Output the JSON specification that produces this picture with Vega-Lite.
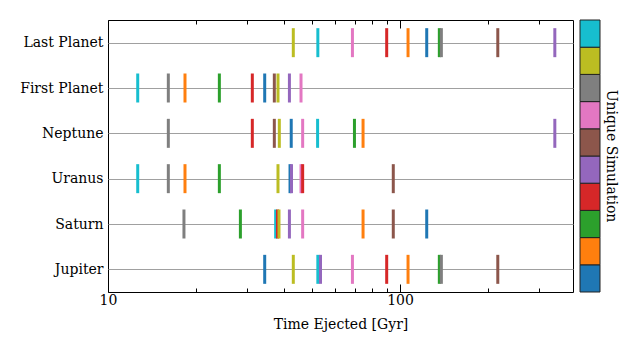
{
  "$schema": "https://vega.github.io/schema/vega-lite/v6.json",
  "width": 465,
  "height": 272,
  "autosize": {"type": "none"},
  "padding": {"left": 108, "top": 20, "right": 67, "bottom": 59},
  "background": "white",
  "config": {
    "view": {"stroke": "black", "strokeWidth": 1},
    "font": "DejaVu Serif"
  },
  "datasets": {
    "ej": [
      {"planet": "Jupiter", "t": 34.4, "sim": 0},
      {"planet": "Jupiter", "t": 43.1, "sim": 8},
      {"planet": "Jupiter", "t": 52.3, "sim": 9},
      {"planet": "Jupiter", "t": 53.4, "sim": 4},
      {"planet": "Jupiter", "t": 68.7, "sim": 6},
      {"planet": "Jupiter", "t": 90.0, "sim": 3},
      {"planet": "Jupiter", "t": 106.5, "sim": 1},
      {"planet": "Jupiter", "t": 136.3, "sim": 2},
      {"planet": "Jupiter", "t": 138.5, "sim": 7},
      {"planet": "Jupiter", "t": 216.1, "sim": 5},
      {"planet": "Saturn", "t": 18.2, "sim": 7},
      {"planet": "Saturn", "t": 28.4, "sim": 2},
      {"planet": "Saturn", "t": 37.5, "sim": 9},
      {"planet": "Saturn", "t": 38.06, "sim": 3},
      {"planet": "Saturn", "t": 38.5, "sim": 8},
      {"planet": "Saturn", "t": 41.8, "sim": 4},
      {"planet": "Saturn", "t": 46.4, "sim": 6},
      {"planet": "Saturn", "t": 74.7, "sim": 1},
      {"planet": "Saturn", "t": 94.8, "sim": 5},
      {"planet": "Saturn", "t": 123.4, "sim": 0},
      {"planet": "Uranus", "t": 12.64, "sim": 9},
      {"planet": "Uranus", "t": 16.09, "sim": 7},
      {"planet": "Uranus", "t": 18.35, "sim": 1},
      {"planet": "Uranus", "t": 24.06, "sim": 2},
      {"planet": "Uranus", "t": 38.2, "sim": 8},
      {"planet": "Uranus", "t": 42.0, "sim": 0},
      {"planet": "Uranus", "t": 42.5, "sim": 4},
      {"planet": "Uranus", "t": 45.8, "sim": 6},
      {"planet": "Uranus", "t": 46.4, "sim": 3},
      {"planet": "Uranus", "t": 94.8, "sim": 5},
      {"planet": "Neptune", "t": 16.09, "sim": 7},
      {"planet": "Neptune", "t": 31.2, "sim": 3},
      {"planet": "Neptune", "t": 37.11, "sim": 5},
      {"planet": "Neptune", "t": 38.6, "sim": 8},
      {"planet": "Neptune", "t": 42.4, "sim": 0},
      {"planet": "Neptune", "t": 46.4, "sim": 6},
      {"planet": "Neptune", "t": 52.2, "sim": 9},
      {"planet": "Neptune", "t": 69.8, "sim": 2},
      {"planet": "Neptune", "t": 74.7, "sim": 1},
      {"planet": "Neptune", "t": 338.8, "sim": 4},
      {"planet": "First Planet", "t": 12.64, "sim": 9},
      {"planet": "First Planet", "t": 16.09, "sim": 7},
      {"planet": "First Planet", "t": 18.35, "sim": 1},
      {"planet": "First Planet", "t": 24.06, "sim": 2},
      {"planet": "First Planet", "t": 31.2, "sim": 3},
      {"planet": "First Planet", "t": 34.4, "sim": 0},
      {"planet": "First Planet", "t": 37.11, "sim": 5},
      {"planet": "First Planet", "t": 38.2, "sim": 8},
      {"planet": "First Planet", "t": 41.8, "sim": 4},
      {"planet": "First Planet", "t": 45.8, "sim": 6},
      {"planet": "Last Planet", "t": 43.1, "sim": 8},
      {"planet": "Last Planet", "t": 52.3, "sim": 9},
      {"planet": "Last Planet", "t": 68.7, "sim": 6},
      {"planet": "Last Planet", "t": 90.0, "sim": 3},
      {"planet": "Last Planet", "t": 106.5, "sim": 1},
      {"planet": "Last Planet", "t": 123.4, "sim": 0},
      {"planet": "Last Planet", "t": 136.3, "sim": 2},
      {"planet": "Last Planet", "t": 138.5, "sim": 7},
      {"planet": "Last Planet", "t": 216.1, "sim": 5},
      {"planet": "Last Planet", "t": 338.8, "sim": 4}
    ],
    "frame": [{"t": 10}]
  },
  "layer": [
    {
      "data": {"name": "ej"},
      "mark": {"type": "tick", "thickness": 3, "size": 29, "opacity": 1},
      "encoding": {
        "x": {
          "field": "t",
          "type": "quantitative",
          "scale": {"type": "log", "domain": [10, 391], "nice": false},
          "axis": {
            "orient": "bottom",
            "values": [10, 20, 30, 40, 50, 60, 70, 80, 90, 100, 200, 300],
            "labelExpr": "datum.value == 10 ? '10' : datum.value == 100 ? '100' : ''",
            "labelFont": "DejaVu Serif",
            "labelFontSize": 14,
            "labelColor": "black",
            "labelPadding": 9,
            "labelOverlap": false,
            "labelFlush": false,
            "tickSize": {"condition": {"test": "datum.value == 10 || datum.value == 100", "value": -8}, "value": -4},
            "tickColor": "black",
            "domain": false,
            "grid": false,
            "title": "Time Ejected [Gyr]",
            "titleFont": "DejaVu Serif",
            "titleFontSize": 14,
            "titleFontWeight": "normal",
            "titleColor": "black",
            "titlePadding": 6
          }
        },
        "y": {
          "field": "planet",
          "type": "nominal",
          "scale": {
            "type": "point",
            "padding": 0.5,
            "domain": ["Last Planet", "First Planet", "Neptune", "Uranus", "Saturn", "Jupiter"]
          },
          "axis": {
            "title": null,
            "labelFont": "DejaVu Serif",
            "labelFontSize": 14,
            "labelColor": "black",
            "labelPadding": 5,
            "ticks": false,
            "domain": false,
            "grid": true,
            "gridColor": "#a0a0a0",
            "gridWidth": 1
          }
        },
        "color": {
          "field": "sim",
          "type": "quantitative",
          "scale": {
            "type": "quantize",
            "domain": [-0.5, 9.5],
            "range": ["#1f77b4", "#ff7f0e", "#2ca02c", "#d62728", "#9467bd", "#8c564b", "#e377c2", "#7f7f7f", "#bcbd22", "#17becf"]
          },
          "legend": {
            "type": "gradient",
            "orient": "none",
            "legendX": 472,
            "legendY": 0,
            "direction": "vertical",
            "gradientLength": 272,
            "gradientThickness": 20,
            "gradientStrokeColor": "#222222",
            "gradientStrokeWidth": 1,
            "labels": false,
            "labelExpr": "''",
            "labelOpacity": 0,
            "labelFontSize": 1,
            "labelOffset": 0,
            "padding": 0,
            "title": "Unique Simulation",
            "titleOrient": "right",
            "titleAngle": 90,
            "titleAnchor": "middle",
            "titleBaseline": "bottom",
            "titleFont": "DejaVu Serif",
            "titleFontSize": 14,
            "titleFontWeight": "normal",
            "titleColor": "black",
            "titlePadding": 3
          }
        }
      }
    },
    {
      "data": {"name": "frame"},
      "mark": {"type": "rule", "opacity": 0},
      "encoding": {
        "x": {
          "field": "t",
          "type": "quantitative",
          "axis": {
            "orient": "top",
            "values": [10, 20, 30, 40, 50, 60, 70, 80, 90, 100, 200, 300],
            "labels": false,
            "tickSize": {"condition": {"test": "datum.value == 10 || datum.value == 100", "value": -8}, "value": -4},
            "tickColor": "black",
            "domain": false,
            "grid": false,
            "title": null
          }
        }
      }
    }
  ],
  "resolve": {"axis": {"x": "independent"}}
}
